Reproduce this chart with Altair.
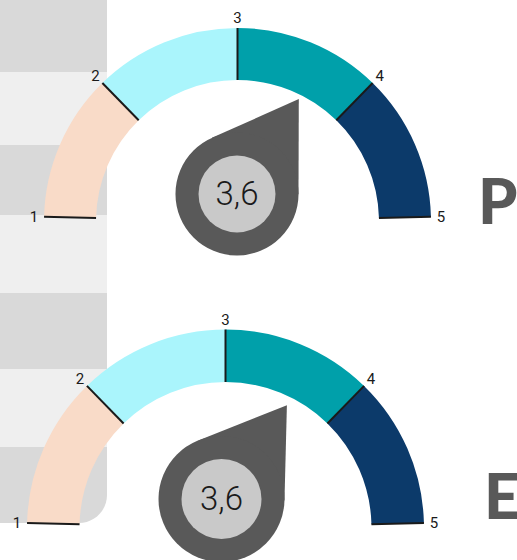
import math
import altair as alt
import pandas as pd

# Rating scale shared by both gauges
scale_ticks = [1, 2, 3, 4, 5]
band_start = [1, 2, 3, 4]
band_end = [2, 3, 4, 5]
band_colors = ["#f9dbc8", "#aaf5fc", "#00a0aa", "#0c3a6a"]

# Readings shown by the two gauges
gauge_values = [3.6, 3.6]
gauge_letters = ["P", "E"]

# Grey row stripes running down the left edge
stripe_top = [0, 72, 145, 215, 293, 369, 447]
stripe_bottom = [72, 145, 215, 293, 369, 447, 523]
stripe_fill = ["#d9d9d9", "#efefef", "#d9d9d9", "#efefef",
               "#d9d9d9", "#efefef", "#d9d9d9"]

W, H = 517, 560
NEEDLE = "#595959"
CAP = "#c9c9c9"
INK = "#1a1a1a"

# Geometry of each gauge (pixels)
layouts = [
    dict(cx=237.5, cy=221.5, R=193.5, r=141.5, span=177.2,
         hx=237.0, hy=194.0, hR=61.5, capR=38.5, tip=137.0,
         lx=478, ly=224),
    dict(cx=225.5, cy=528.0, R=198.5, r=146.0, span=177.1,
         hx=221.5, hy=499.0, hR=63.0, capR=40.0, tip=137.3,
         lx=484, ly=519),
]


def angle_expr(field, g):
    lo, hi = scale_ticks[0], scale_ticks[-1]
    span = g["span"]
    return f"(-{span} / 2 + ({field} - {lo}) / {hi - lo} * {span}) * PI / 180"


def px(field):
    return alt.X(f"{field}:Q", scale=None, axis=None)


def py(field):
    return alt.Y(f"{field}:Q", scale=None, axis=None)


def gauge_layers(value, letter, g):
    cx, cy, R, r = g["cx"], g["cy"], g["R"], g["r"]
    layers = []

    bands = pd.DataFrame({"start": band_start, "end": band_end, "color": band_colors})
    layers.append(
        alt.Chart(bands)
        .transform_calculate(t1=angle_expr("datum.start", g), t2=angle_expr("datum.end", g))
        .mark_arc(radius=R, radius2=r)
        .encode(
            x=alt.value(cx), y=alt.value(cy),
            theta=alt.Theta("t1:Q", scale=None, stack=False),
            theta2="t2:Q",
            color=alt.Color("color:N", scale=None),
        )
    )

    ticks = pd.DataFrame({"v": scale_ticks})
    tick_base = alt.Chart(ticks).transform_calculate(
        a=angle_expr("datum.v", g),
        x1=f"{cx} + {r} * sin(datum.a)",
        y1=f"{cy} - {r} * cos(datum.a)",
        x2=f"{cx} + {R} * sin(datum.a)",
        y2=f"{cy} - {R} * cos(datum.a)",
        lx=f"{cx} + {R + 10} * sin(datum.a)",
        ly=f"{cy} - {R + 10} * cos(datum.a)",
    )
    layers.append(
        tick_base.mark_rule(color=INK, strokeWidth=2).encode(
            x=px("x1"), y=py("y1"), x2="x2:Q", y2="y2:Q"
        )
    )
    layers.append(
        tick_base.mark_text(font="Roboto", fontSize=15, color=INK,
                            align="center", baseline="middle").encode(
            x=px("lx"), y=py("ly"), text="v:N"
        )
    )

    hx, hy, hR = g["hx"], g["hy"], g["hR"]
    reading = pd.DataFrame({"v": [value]})
    needle_base = alt.Chart(reading).transform_calculate(
        a=angle_expr("datum.v", g),
        tx=f"{cx} + {g['tip']} * sin(datum.a)",
        ty=f"{cy} - {g['tip']} * cos(datum.a)",
        dx=f"{hx} - datum.tx",
        dy=f"{hy} - datum.ty",
        d="sqrt(datum.dx * datum.dx + datum.dy * datum.dy)",
        dir="atan2(datum.dx, -datum.dy)",
        half=f"asin({hR} / datum.d)",
        t1="datum.dir - datum.half",
        t2="datum.dir + datum.half",
        wr=f"sqrt(datum.d * datum.d - {hR * hR})",
        label="replace(format(datum.v, '.1f'), '.', ',')",
    )
    # pointed part of the needle: a wedge fanning out from the tip to the hub
    layers.append(
        needle_base.mark_arc(color=NEEDLE).encode(
            x=px("tx"), y=py("ty"),
            theta=alt.Theta("t1:Q", scale=None, stack=False),
            theta2="t2:Q",
            radius=alt.Radius("wr:Q", scale=None),
        )
    )
    layers.append(
        needle_base.mark_arc(color=NEEDLE, radius=hR, theta=0, theta2=2 * math.pi)
        .encode(x=alt.value(hx), y=alt.value(hy))
    )
    layers.append(
        needle_base.mark_arc(color=CAP, radius=g["capR"], theta=0, theta2=2 * math.pi)
        .encode(x=alt.value(hx), y=alt.value(hy))
    )
    layers.append(
        needle_base.mark_text(font="Roboto", fontSize=33, fontWeight=300, color=INK,
                              align="center", baseline="middle").encode(
            x=alt.value(hx), y=alt.value(hy + 1), text="label:N"
        )
    )

    tag = pd.DataFrame({"t": [letter]})
    layers.append(
        alt.Chart(tag).mark_text(font="Lato", fontWeight=900, fontSize=63, color=NEEDLE,
                                 align="left", baseline="alphabetic").encode(
            x=alt.value(g["lx"]), y=alt.value(g["ly"]), text="t:N"
        )
    )
    return layers


stripes = pd.DataFrame({"y0": stripe_top, "y1": stripe_bottom, "fill": stripe_fill,
                        "last": [i == len(stripe_top) - 1 for i in range(len(stripe_top))]})
stripe_layer = alt.Chart(stripes).mark_rect(cornerRadiusBottomRight=28).encode(
    x=alt.value(0), x2=alt.value(107),
    y=py("y0"), y2="y1:Q",
    color=alt.Color("fill:N", scale=None),
)
# only the bottom row has a rounded corner; square the others off with a plain overlay
square_layer = alt.Chart(stripes).transform_filter("!datum.last").mark_rect().encode(
    x=alt.value(0), x2=alt.value(107),
    y=py("y0"), y2="y1:Q",
    color=alt.Color("fill:N", scale=None),
)

all_layers = [stripe_layer, square_layer]
for val, letter, g in zip(gauge_values, gauge_letters, layouts):
    all_layers += gauge_layers(val, letter, g)

chart = (
    alt.layer(*all_layers)
    .properties(width=W, height=H, padding=0,
                autosize=alt.AutoSizeParams(type="none"), background="white")
    .configure_view(stroke=None)
)

chart.save("out.html", embed_options={"renderer": "svg", "actions": False})
